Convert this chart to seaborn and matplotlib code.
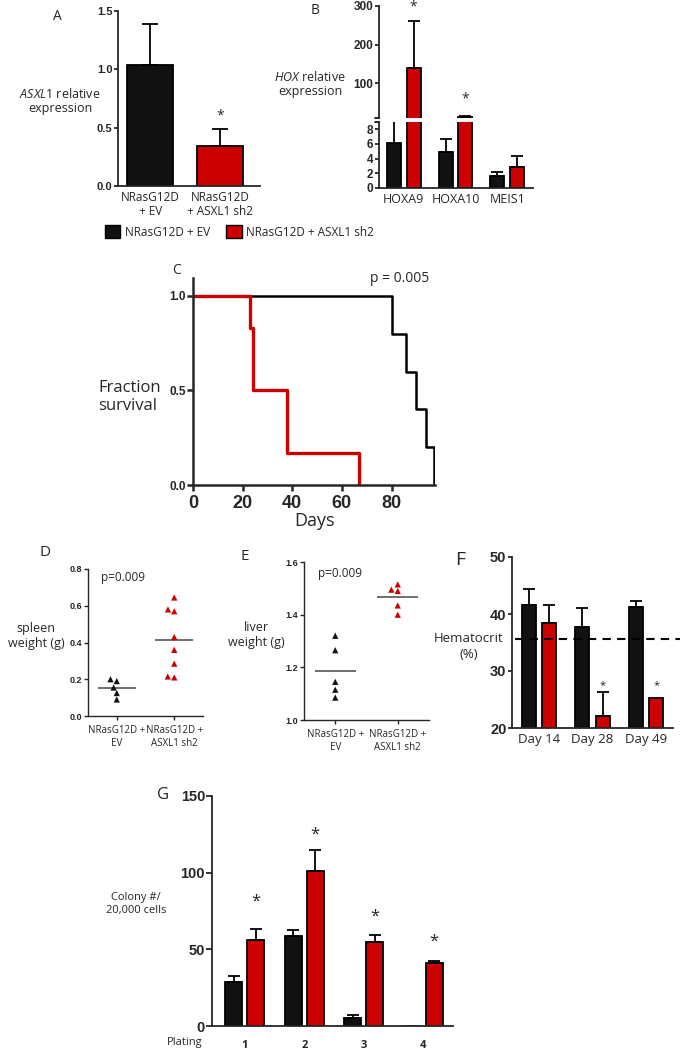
import numpy as np
import pandas as pd
import seaborn as sns
import matplotlib.pyplot as plt
from matplotlib.patches import Patch

sns.set_style('ticks')
plt.rcParams['font.family'] = ['Open Sans', 'DejaVu Sans']
plt.rcParams['mathtext.fontset'] = 'custom'
plt.rcParams['mathtext.it'] = 'Open Sans:italic'
plt.rcParams['mathtext.rm'] = 'Open Sans'

RED = '#cc0000'
BLACK = '#111111'
groups = ['NRasG12D + EV', 'NRasG12D + ASXL1 sh2']

# A - ASXL1 expression
asxl1_mean = [1.04, 0.34]
asxl1_err = [0.35, 0.15]

# B - HOX expression
hox_genes = ['HOXA9', 'HOXA10', 'MEIS1']
hox_ev = [6.2, 4.9, 1.7]
hox_ev_err = [3.5, 1.8, 0.5]
hox_sh2 = [140, 12, 2.9]
hox_sh2_err = [120, 3, 1.4]

# C - survival
ev_days = [0, 80, 86, 90, 94, 97]
ev_surv = [1.0, 0.8, 0.6, 0.4, 0.2, 0.0]
sh2_days = [0, 23, 24, 38, 67]
sh2_surv = [1.0, 0.833, 0.5, 0.167, 0.0]

# D - spleen
spleen_ev = [0.19, 0.20, 0.155, 0.125, 0.09]
spleen_sh2 = [0.645, 0.57, 0.58, 0.43, 0.36, 0.285, 0.21, 0.215]

# E - liver
liver_ev = [1.32, 1.265, 1.145, 1.115, 1.085]
liver_sh2 = [1.515, 1.49, 1.495, 1.435, 1.40]

# F - hematocrit
hct_days = ['Day 14', 'Day 28', 'Day 49']
hct_ev = [41.5, 37.7, 41.3]
hct_ev_err = [2.8, 3.3, 0.9]
hct_sh2 = [38.5, 22.1, 25.3]
hct_sh2_err = [3.0, 4.3, 0.0]
hct_normal = 35.7

# G - colonies
platings = ['1', '2', '3', '4']
col_ev = [29, 58.5, 5.5, 0]
col_ev_err = [3.5, 4, 1.5, 0]
col_sh2 = [56, 101, 54.5, 41]
col_sh2_err = [7, 14, 5, 1.5]

W, H = 680, 1050
fig = plt.figure(figsize=(6.8, 10.5), dpi=100)


def box(l, t, r, b):
    return fig.add_axes([l / W, 1 - b / H, (r - l) / W, (b - t) / H])


def ftext(x, y, s, **kw):
    fig.text(x / W, 1 - y / H, s, **kw)


def style(ax, lw=1.3, tsize=8, xlen=0, ylen=3):
    sns.despine(ax=ax)
    for s in ['left', 'bottom']:
        ax.spines[s].set_linewidth(lw)
    ax.tick_params(axis='y', width=lw, length=ylen, labelsize=tsize, pad=1)
    ax.tick_params(axis='x', width=lw, length=xlen)
    for lab in ax.get_yticklabels():
        lab.set_fontweight('bold')
        lab.set_fontfamily('Liberation Sans')
    ax.set_xlabel('')
    ax.set_ylabel('')


def add_err(ax, xs, vals, errs, lw=1.3, cap=4):
    # one-sided error bars; no cap when the end falls outside the axis
    lo, hi = ax.get_ylim()
    for x, v, e in zip(xs, vals, errs):
        top = v + e
        if e == 0 or top < lo:
            continue
        if top > hi:
            ax.vlines(x, v, top, color='black', lw=lw, zorder=1)
        else:
            ax.errorbar([x], [v], yerr=[[0], [e]], fmt='none', ecolor='black',
                        elinewidth=lw, capsize=cap, capthick=lw, zorder=1)


def grouped_bars(ax, cats, ev, ev_err, sh2, sh2_err, width, gap, ylim, lw=1.3, cap=4):
    df = pd.DataFrame({'cat': cats * 2,
                       'grp': [groups[0]] * len(cats) + [groups[1]] * len(cats),
                       'val': list(ev) + list(sh2)})
    sns.barplot(data=df, x='cat', y='val', hue='grp', palette=[BLACK, RED],
                width=width, gap=gap, edgecolor='black', linewidth=lw,
                errorbar=None, legend=False, saturation=1, ax=ax)
    ax.set_ylim(*ylim)
    xs = [p.get_x() + p.get_width() / 2 for p in ax.patches]
    add_err(ax, xs, df['val'], list(ev_err) + list(sh2_err), lw=lw, cap=cap)
    return xs


# ---------- A ----------
axA = box(118, 11, 260, 186)
dfA = pd.DataFrame({'grp': groups, 'val': asxl1_mean})
sns.barplot(data=dfA, x='grp', y='val', hue='grp', palette=[BLACK, RED], width=0.66,
            edgecolor='black', linewidth=1.3, errorbar=None, legend=False, saturation=1, ax=axA)
axA.set_xlim(-0.46, 1.57)
axA.set_ylim(0, 1.5)
add_err(axA, [p.get_x() + p.get_width() / 2 for p in axA.patches], asxl1_mean, asxl1_err, cap=6)
axA.set_yticks([0, 0.5, 1.0, 1.5])
axA.set_yticklabels(['0.0', '0.5', '1.0', '1.5'])
axA.set_xticks([0, 1])
axA.set_xticklabels(['NRasG12D\n+ EV', 'NRasG12D\n+ ASXL1 sh2'], fontsize=8.5, linespacing=1.1)
style(axA)
axA.text(1, 0.6, '*', ha='center', va='center', fontsize=10)
ftext(57, 17, 'A', fontsize=10, ha='center', va='center')
ftext(60, 101, '$\\it{ASXL1}$ relative\nexpression', fontsize=9, ha='center', va='center',
      multialignment='center', linespacing=1.15)

# legend
handles = [Patch(facecolor=BLACK, edgecolor='black'), Patch(facecolor=RED, edgecolor='black')]
fig.legend(handles, groups, loc='center left', bbox_to_anchor=(94 / W, 1 - 232 / H), ncol=2,
           frameon=False, fontsize=8.5, handlelength=1.3, handleheight=1.3,
           handletextpad=0.4, columnspacing=1.4)

# ---------- B (broken axis) ----------
axBt = box(379, 6, 533, 118)
axBb = box(379, 122, 533, 188)
grouped_bars(axBt, hox_genes, hox_ev, hox_ev_err, hox_sh2, hox_sh2_err, width=0.76, gap=0.28,
             ylim=(10, 300))
grouped_bars(axBb, hox_genes, hox_ev, hox_ev_err, hox_sh2, hox_sh2_err, width=0.76, gap=0.28,
             ylim=(0, 9))
for ax in (axBt, axBb):
    ax.set_xlim(-0.48, 2.5)
axBt.set_yticks([100, 200, 300])
axBb.set_yticks([0, 2, 4, 6, 8])
axBb.set_xticks([0, 1, 2])
axBb.set_xticklabels(hox_genes, fontsize=9)
style(axBt, tsize=8.5)
style(axBb, tsize=8.5)
axBt.spines['bottom'].set_visible(False)
axBt.set_xticks([])
# break marks on the y axis
axBt.plot([-0.025, 0.0], [0, 0], transform=axBt.transAxes, color='black', lw=1.2, clip_on=False)
axBb.plot([-0.025, 0.0], [1, 1], transform=axBb.transAxes, color='black', lw=1.2, clip_on=False)
axBt.text(0.19, 298, '*', ha='center', va='center', fontsize=10, clip_on=False)
axBt.text(1.19, 60, '*', ha='center', va='center', fontsize=10)
ftext(315, 10, 'B', fontsize=10, ha='center', va='center')
ftext(310, 84, '$\\it{HOX}$ relative\nexpression', fontsize=9, ha='center', va='center',
      multialignment='center', linespacing=1.15)

# ---------- C ----------
axC = box(193, 278, 435, 485)
sns.lineplot(x=ev_days, y=ev_surv, drawstyle='steps-post', color='black', lw=1.8, ax=axC)
sns.lineplot(x=sh2_days, y=sh2_surv, drawstyle='steps-post', color=RED, lw=2.4, ax=axC)
axC.set_xlim(0, 97.5)
axC.set_ylim(0, 1.095)
axC.set_xticks([0, 20, 40, 60, 80])
axC.set_yticks([0, 0.5, 1.0])
axC.set_yticklabels(['0.0', '0.5', '1.0'])
style(axC, lw=1.8, tsize=8.5, xlen=4, ylen=4)
for lab in axC.get_xticklabels():
    lab.set_fontweight('bold')
    lab.set_fontfamily('Liberation Sans')
    lab.set_fontsize(13)
axC.set_xlabel('Days', fontsize=13, labelpad=0)
ftext(176, 270, 'C', fontsize=10, ha='center', va='center')
ftext(400, 278, 'p = 0.005', fontsize=10, ha='center', va='center')
ftext(98, 397, 'Fraction\nsurvival', fontsize=12, ha='left', va='center', linespacing=1.1)


# ---------- D, E ----------
def dot_panel(ax, ev, sh2, ylim, yticks, ylabels):
    df = pd.DataFrame({'grp': [groups[0]] * len(ev) + [groups[1]] * len(sh2),
                       'val': list(ev) + list(sh2)})
    sns.swarmplot(data=df, x='grp', y='val', hue='grp', palette=[BLACK, RED], order=groups,
                  marker='^', size=4.5, linewidth=0, legend=False, ax=ax)
    for i, vals in enumerate([ev, sh2]):
        ax.hlines(np.mean(vals), i - 0.33, i + 0.33, color='#555555', lw=1.2)
    ax.set_xlim(-0.5, 1.5)
    ax.set_ylim(*ylim)
    ax.set_yticks(yticks)
    ax.set_yticklabels(ylabels)
    ax.set_xticks([0, 1])
    ax.set_xticklabels(['NRasG12D +\nEV', 'NRasG12D +\nASXL1 sh2'], fontsize=7, linespacing=1.2)
    style(ax, lw=1.0, tsize=6.5, xlen=3, ylen=3)


axD = box(88, 569, 203, 716)
dot_panel(axD, spleen_ev, spleen_sh2, (0, 0.8), [0, 0.2, 0.4, 0.6, 0.8],
          ['0.0', '0.2', '0.4', '0.6', '0.8'])
ftext(45, 552, 'D', fontsize=11, ha='center', va='center')
ftext(123, 577, 'p=0.009', fontsize=8.5, ha='center', va='center')
ftext(36, 636, 'spleen\nweight (g)', fontsize=9, ha='center', va='center', linespacing=1.2)

axE = box(304, 562, 429, 720)
dot_panel(axE, liver_ev, liver_sh2, (1.0, 1.6), [1.0, 1.2, 1.4, 1.6],
          ['1.0', '1.2', '1.4', '1.6'])
ftext(245, 557, 'E', fontsize=11, ha='center', va='center')
ftext(340, 573, 'p=0.009', fontsize=8.5, ha='center', va='center')
ftext(256, 635, 'liver\nweight (g)', fontsize=9, ha='center', va='center', linespacing=1.2)

# ---------- F ----------
axF = box(512, 557, 673, 728)
grouped_bars(axF, hct_days, hct_ev, hct_ev_err, hct_sh2, hct_sh2_err, width=0.75, gap=0.3,
             ylim=(20, 50))
axF.axhline(hct_normal, xmin=0.02, xmax=1.05, color='black', ls='--', lw=1.5,
            dashes=(4, 3), clip_on=False, zorder=5)
axF.set_xlim(-0.5, 2.5)
axF.set_yticks([20, 30, 40, 50])
axF.set_xticks([0, 1, 2])
axF.set_xticklabels(hct_days, fontsize=9.5)
style(axF, tsize=10.5)
for x in (1.19, 2.19):
    axF.text(x, 27.4, '*', ha='center', va='center', fontsize=8)
ftext(460, 560, 'F', fontsize=14, ha='center', va='center')
ftext(469, 646, 'Hematocrit\n(%)', fontsize=9.5, ha='center', va='center', linespacing=1.3)

# ---------- G ----------
axG = box(212, 796, 453, 1026)
grouped_bars(axG, platings, col_ev, col_ev_err, col_sh2, col_sh2_err, width=0.74, gap=0.23,
             ylim=(0, 150), cap=4.5)
axG.set_xlim(-0.55, 3.5)
axG.set_yticks([0, 50, 100, 150])
axG.set_xticks([0, 1, 2, 3])
axG.set_xticklabels(platings, fontsize=8, fontweight='bold')
style(axG, tsize=10.5, ylen=4)
axG.tick_params(axis='x', pad=10)
for x, y in zip([0.185, 1.185, 2.185, 3.185], [81, 124.6, 71, 55]):
    axG.text(x, y, '*', ha='center', va='center', fontsize=12)
ftext(163, 795, 'G', fontsize=12, ha='center', va='center')
ftext(136, 904, 'Colony #/\n20,000 cells', fontsize=8, ha='center', va='center', linespacing=1.3)
ftext(167, 1043, 'Plating', fontsize=8, ha='left', va='center')

fig.savefig('out.png', dpi=100)
